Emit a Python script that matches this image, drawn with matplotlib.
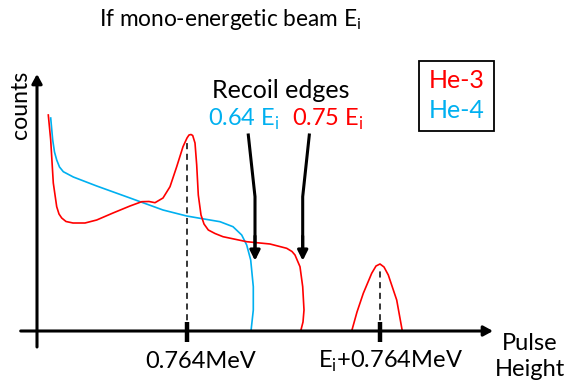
import matplotlib
matplotlib.use("Agg")
import matplotlib.pyplot as plt
from matplotlib.patches import Rectangle

plt.rcParams["font.family"] = ["Lato", "DejaVu Sans"]
plt.rcParams["mathtext.fontset"] = "custom"
plt.rcParams["mathtext.rm"] = "Lato"

RED = "#ff0000"
BLUE = "#00b0f0"

# schematic pulse-height spectra (arbitrary units, origin at the axes crossing)
he3_x = [11.3, 13.7, 16.3, 19.7, 22, 24.7, 29, 36, 48, 59.7, 76, 93, 104.7, 112, 118,
         126, 133, 139.7, 146, 150, 152, 154, 155.7, 158, 159.7, 161.3, 164, 167,
         171.3, 178, 186, 209.7, 233, 249.7, 255, 258, 263, 265.7, 267, 266, 263.7]
he3_y = [216, 191, 148, 124.3, 117, 113, 109.5, 108, 108, 111, 118, 125, 129.3, 129.5,
         128.3, 133, 144.3, 164.3, 184.3, 193, 196, 196.5, 195.5, 188, 166, 136, 116,
         107, 101, 97.5, 94.3, 89.3, 87, 82.7, 79.5, 76, 64.3, 44.3, 21, 9, 0]
he4_x = [13.7, 15.7, 17.5, 19.7, 22.5, 26.3, 36.3, 59.7, 93, 126, 149.7, 163, 183,
         196, 204.7, 209.7, 213.7, 216.3, 216.3, 214]
he4_y = [213, 191, 179, 171, 164, 159.3, 154, 145, 133, 121, 115, 112.7, 109.3, 104.3,
         96, 86, 71, 44.3, 21, 0]
peak_x = [314.7, 320, 326.3, 334.7, 339, 343, 347, 351.3, 359.7, 365.3]
peak_y = [0, 19, 37.7, 57.7, 65, 67, 64, 56, 31, 0]

tick_pos = [149.7, 343]
tick_top = [192, 64]
tick_labels = ["0.764MeV", r"E$_\mathregular{i}$+0.764MeV"]
edge_x = [218, 265.7]
edge_start = [211.3, 272.3]

fig = plt.figure(figsize=(5.71, 3.85), dpi=100)
ax = fig.add_axes([0, 0, 1, 1])
ax.set_xlim(-37, 534)
ax.set_ylim(-54, 331)
ax.axis("off")

ax.plot(he4_x, he4_y, color=BLUE, lw=1.2, solid_joinstyle="round")
ax.plot(he3_x, he3_y, color=RED, lw=1.2, solid_joinstyle="round")
ax.plot(peak_x, peak_y, color=RED, lw=1.2, solid_joinstyle="round")

# axes with arrow heads
head = "-|>,head_length=0.55,head_width=0.3"
ax.annotate("", xy=(456, 0), xytext=(-16.3, 0),
            arrowprops=dict(arrowstyle=head, lw=2.2, color="black", shrinkA=0, shrinkB=0))
ax.annotate("", xy=(0, 257), xytext=(0, -16),
            arrowprops=dict(arrowstyle=head, lw=2.2, color="black", shrinkA=0, shrinkB=0))

label_shift = [14, 10.5]
for xp, top, lab, dx in zip(tick_pos, tick_top, tick_labels, label_shift):
    ax.plot([xp, xp], [0, top], color="black", lw=1.1, ls=(0, (4, 3)))
    ax.plot([xp, xp], [-10.5, 9.5], color="black", lw=3.2, solid_capstyle="butt")
    ax.text(xp + dx, -30.7, lab, fontsize=17, ha="center", va="center")

ax.text(493, -12, "Pulse", fontsize=17, ha="center", va="center")
ax.text(493, -38, "Height", fontsize=17, ha="center", va="center")
ax.text(-17, 226, "counts", fontsize=16.7, ha="center", va="center", rotation=90)

ax.text(193, 311, r"If mono-energetic beam E$_\mathregular{i}$", fontsize=16.3,
        ha="center", va="center")
ax.text(244, 241, "Recoil edges", fontsize=18, ha="center", va="center")
ax.text(171, 212, r"0.64 E$_\mathregular{i}$", fontsize=17, color=BLUE, va="center")
ax.text(255, 212, r"0.75 E$_\mathregular{i}$", fontsize=17, color=RED, va="center")

# recoil edge pointers
for ex, start in zip(edge_x, edge_start):
    ax.plot([start, ex, ex], [196, 134.3, 80], color="black", lw=2.2,
            solid_joinstyle="miter")
    ax.annotate("", xy=(ex, 70.3), xytext=(ex, 95),
                arrowprops=dict(arrowstyle="-|>,head_length=0.6,head_width=0.3",
                                lw=2.2, color="black", shrinkA=0, shrinkB=0))

ax.add_patch(Rectangle((382.3, 200.3), 75, 70, fill=False, lw=1.3, ec="black"))
ax.text(419.8, 251, "He-3", fontsize=18, color=RED, ha="center", va="center")
ax.text(419.8, 221, "He-4", fontsize=18, color=BLUE, ha="center", va="center")

fig.savefig("out.png", dpi=100)
